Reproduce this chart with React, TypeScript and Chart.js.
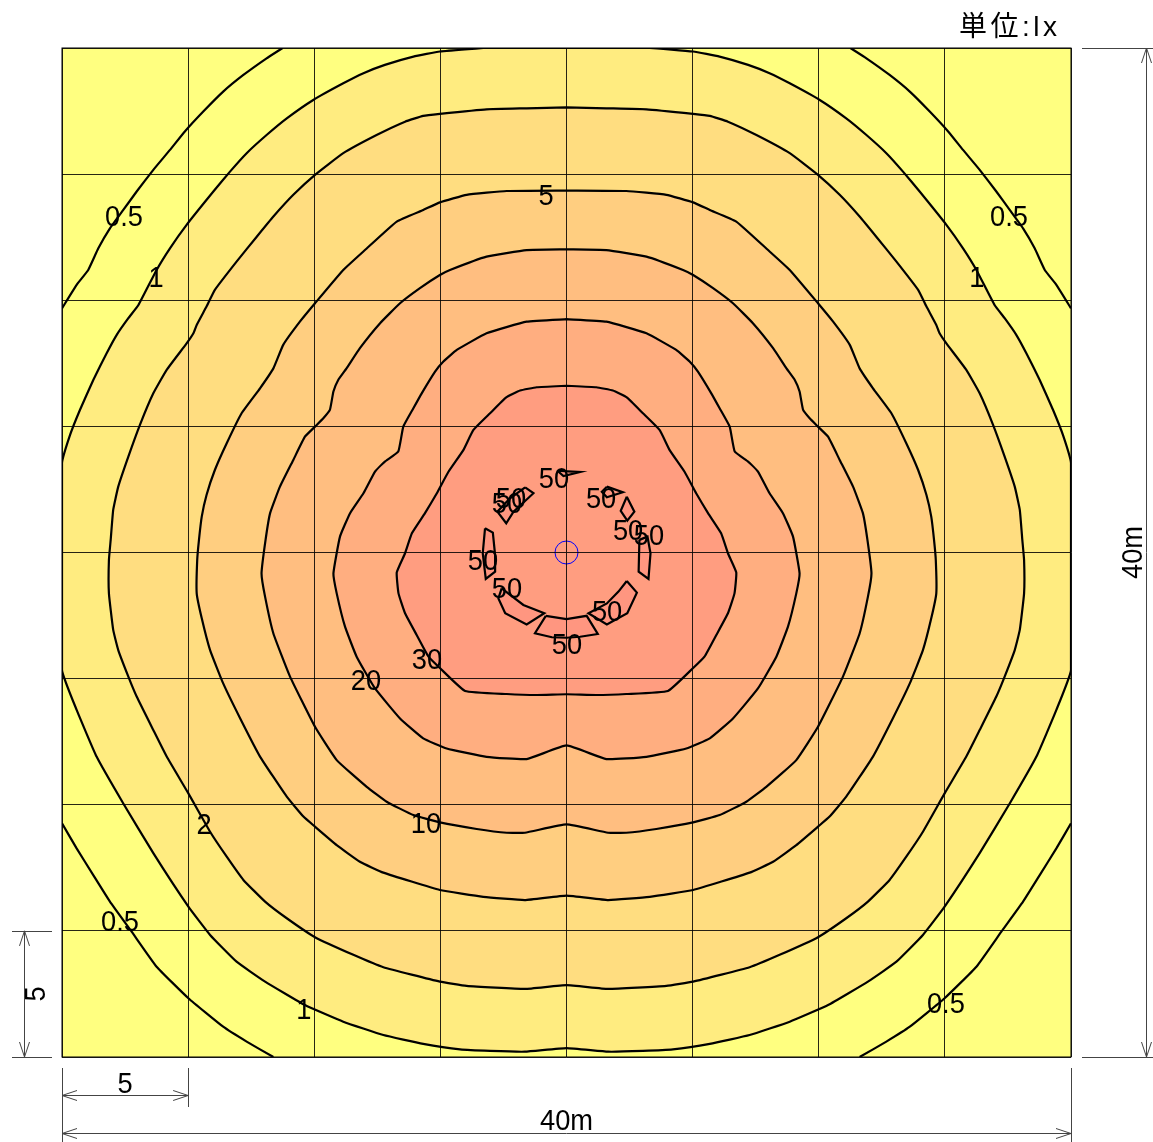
import React, { useEffect, useRef } from "react";
import { Chart, registerables } from "chart.js";

Chart.register(...registerables);

type P = [number, number];

// Iso-lux lines, metres from the luminaire. The plan is symmetric about x = 0,
// so each line lists its left half, from the top to the bottom of the plan.
const line05TopLeft: P[] = [[-11.25,20],[-11.89,19.59],[-12.81,18.93],[-13.61,18.27],[-14.4,17.48],[-15.13,16.69],[-15.72,15.96],[-16.38,15.17],[-17.04,14.31],[-17.57,13.58],[-18.1,12.85],[-18.56,12.06],[-18.96,11.2],[-19.42,10.61],[-20,9.68]];
const line05BottomLeft: P[] = [[-20,-10.74],[-19.42,-11.73],[-18.76,-12.79],[-18.1,-13.84],[-17.24,-15.03],[-16.25,-16.42],[-14.99,-17.67],[-13.61,-18.8],[-12.68,-19.39],[-11.62,-20]];
const line1Left: P[] = [[-3.3,20],[-5.02,19.86],[-6.07,19.66],[-7.2,19.33],[-8.05,19],[-8.85,18.6],[-10.04,17.94],[-11.09,17.21],[-11.89,16.55],[-12.68,15.83],[-13.34,15.1],[-14,14.31],[-15.06,12.99],[-15.72,12.06],[-16.25,11.2],[-16.97,9.81],[-17.37,9.29],[-17.83,8.63],[-18.23,7.9],[-18.76,6.84],[-19.29,5.65],[-19.68,4.66],[-20,3.54],[-20,-4.66],[-19.42,-6.24],[-18.63,-8.09],[-17.57,-9.95],[-16.38,-11.92],[-14.99,-14.04],[-14.13,-15.16],[-13.08,-16.22],[-11.95,-17.01],[-10.37,-17.94],[-8.85,-18.6],[-7.26,-19.13],[-5.68,-19.48],[-4.22,-19.7],[-3.03,-19.76],[-1.65,-19.79],[0,-19.65]];
const line2Left: P[] = [[0,17.65],[-1.58,17.61],[-3.17,17.57],[-5.02,17.39],[-5.68,17.31],[-6.4,17.08],[-7.53,16.55],[-8.85,15.83],[-9.97,14.97],[-10.83,14.18],[-11.62,13.32],[-12.28,12.52],[-13.08,11.53],[-13.94,10.41],[-14.27,9.75],[-14.66,9.02],[-14.79,8.69],[-15.06,8.29],[-15.85,7.24],[-16.38,6.31],[-16.91,5.06],[-17.37,3.8],[-17.77,2.61],[-17.97,1.69],[-18.07,0.5],[-18.14,-0.3],[-18.14,-1.62],[-17.97,-3.07],[-17.77,-3.87],[-17.37,-4.92],[-17.04,-5.71],[-16.38,-7.04],[-15.85,-8.09],[-14.99,-9.55],[-14.13,-11.07],[-13.47,-12.06],[-12.81,-12.98],[-11.95,-13.84],[-11.09,-14.5],[-9.97,-15.25],[-8.45,-15.95],[-7.26,-16.44],[-5.02,-17.01],[-3.96,-17.18],[-1.65,-17.3],[0,-17.15]];
const line5Left: P[] = [[0,14.35],[-2.37,14.33],[-3.96,14.18],[-5.02,13.88],[-5.68,13.58],[-6.73,13.12],[-7.99,11.99],[-8.85,11.2],[-9.97,9.88],[-10.57,9.15],[-11.23,8.23],[-11.62,7.3],[-12.15,6.51],[-12.88,5.52],[-13.47,4.33],[-13.94,3.27],[-14.27,2.28],[-14.46,1.42],[-14.57,0.5],[-14.64,-0.3],[-14.66,-1.62],[-14.46,-2.61],[-14.13,-3.87],[-13.61,-5.19],[-12.94,-6.57],[-12.15,-8.09],[-11.09,-9.68],[-10.43,-10.47],[-9.97,-10.87],[-9.11,-11.6],[-8.19,-12.26],[-7.26,-12.69],[-5.02,-13.38],[-3.3,-13.65],[-1.65,-13.78],[0,-13.6]];
const line10Left: P[] = [[0,12.02],[-1.58,11.99],[-3.17,11.73],[-4.62,11.2],[-5.02,11],[-5.81,10.48],[-6.6,9.88],[-7.39,9.09],[-8.19,8.1],[-8.72,7.3],[-9.05,6.84],[-9.24,6.38],[-9.38,5.65],[-9.64,5.32],[-9.97,4.99],[-10.37,4.59],[-10.83,3.67],[-11.36,2.61],[-11.75,1.56],[-11.93,0.5],[-12.09,-0.83],[-11.95,-1.75],[-11.62,-3.21],[-10.96,-4.92],[-9.97,-6.91],[-9.11,-8.23],[-7.92,-9.29],[-7.13,-9.88],[-6.07,-10.41],[-5.02,-10.7],[-3.56,-10.96],[-2.37,-11.11],[-1.65,-11.11],[0,-10.78]];
const line20Left: P[] = [[0,9.25],[-1.58,9.15],[-3.17,8.69],[-4.35,8.03],[-4.88,7.57],[-5.21,7.17],[-5.74,6.31],[-6.07,5.72],[-6.47,4.99],[-6.67,4],[-7.2,3.6],[-7.59,3.21],[-8.05,2.35],[-8.58,1.56],[-8.98,0.63],[-9.24,-0.83],[-9.11,-1.62],[-8.78,-2.94],[-8.32,-4.13],[-7.59,-5.39],[-6.6,-6.58],[-5.68,-7.37],[-4.75,-7.77],[-3.17,-8.1],[-1.58,-8.19],[0,-7.65]];
const line30Left: P[] = [[0,6.61],[-1.18,6.55],[-1.84,6.42],[-2.39,6.15],[-3.03,5.52],[-3.69,4.86],[-4.09,4.06],[-4.68,3.2],[-5.14,2.35],[-5.61,1.56],[-6.13,0.76],[-6.4,-0.03],[-6.73,-0.79],[-6.66,-1.62],[-6.4,-2.41],[-5.94,-3.27],[-5.47,-4.13],[-5.01,-4.59],[-4.02,-5.49],[-2.37,-5.61],[-1.18,-5.65],[0,-5.62]];

// The patches above 50 lx, which do not mirror.
const patches50: P[][] = [
  [[-0.82,-2.51],[0,-2.64],[0.8,-2.51],[1.24,-3.23],[0.54,-3.34],[0,-3.38],[-0.58,-3.36],[-1.25,-3.2]],
  [[-2.57,-1.42],[-1.71,-2.08],[-0.88,-2.41],[-1.58,-2.85],[-2.43,-2.41],[-2.7,-1.82]],
  [[2.39,-1.13],[2.79,-1.59],[2.41,-2.41],[1.6,-2.85],[0.87,-2.41],[1.6,-2.02],[2.06,-1.55]],
  [[-3.23,0.96],[-2.92,0.79],[-2.83,-0.1],[-2.83,-0.76],[-3.2,-1.05],[-3.32,-0.03]],
  [[2.89,0.5],[2.86,-0.76],[3.25,-1.05],[3.33,-0.03],[3.21,0.63]],
  [[2.39,2.21],[2.69,1.62],[2.41,1.26],[2.15,1.65]],
  [[-0.36,3.24],[0.54,3.19],[-0.12,3.03]],
  [[1.6,2.61],[2.23,2.39],[1.6,2.19],[1.4,2.41]],
  [[-1.64,2.58],[-1.31,2.35],[-2.1,1.62],[-2.39,1.16],[-2.74,1.62],[-2.24,2.15]],
];

const lineLevels = ["1", "2", "5", "10", "20", "30"];
const bandColors = ["#FFEC80", "#FFDD80", "#FFCE80", "#FFBE80", "#FFAE80", "#FF9D80"];
const patchColor = "#FF9680";
const plainColor = "#FFFF80";

const labelText = ["5","0.5","0.5","0.5","0.5","1","1","1","2","10","20","30","50","50","50","50","50","50","50","50","50","50"];
const labelX = [-0.81,-17.54,17.54,-17.7,15.04,-16.27,16.27,-10.41,-14.37,-5.57,-7.95,-5.53,-0.5,1.37,2.44,3.27,-2.2,-2.36,-3.31,-2.36,1.61,0.02];
const labelY = [14.17,13.34,13.34,-14.61,-17.86,10.92,10.92,-18.1,-10.76,-10.72,-5.05,-4.22,2.95,2.16,0.89,0.69,2.16,1.96,-0.3,-1.41,-2.32,-3.63];

const unitText = "単位:lx";
const spanWhole = "40m";
const spanGrid = "5";
const FONT = '"Liberation Sans", "Noto Sans CJK JP", sans-serif';

const toXY = (pts: P[]) => pts.map(([x, y]) => ({ x, y }));
const mirrored = (pts: P[]): P[] => pts.map(([x, y]) => [-x, y] as P).reverse();
const closedFromLeft = (left: P[]): P[] => {
  const right = mirrored(left).filter(([x]) => x !== 0);
  return [...left, ...right, left[0]];
};

const baseLine = { showLine: true, pointRadius: 0, tension: 0, borderColor: "#000", borderWidth: 2.2 };
const CONTOUR_TENSION = 0.12;

function arrow(ctx: CanvasRenderingContext2D, x: number, y: number, dx: number, dy: number) {
  const len = 15, wing = 5;
  ctx.beginPath();
  ctx.moveTo(x + dx * len + dy * wing, y + dy * len + dx * wing);
  ctx.lineTo(x, y);
  ctx.lineTo(x + dx * len - dy * wing, y + dy * len - dx * wing);
  ctx.stroke();
}
function seg(ctx: CanvasRenderingContext2D, x1: number, y1: number, x2: number, y2: number) {
  ctx.beginPath();
  ctx.moveTo(x1, y1);
  ctx.lineTo(x2, y2);
  ctx.stroke();
}
// The reference's digits are a little taller and narrower than Liberation Sans.
function narrowText(ctx: CanvasRenderingContext2D, t: string, x: number, y: number, rotate = 0) {
  ctx.save();
  ctx.translate(x, y);
  if (rotate) ctx.rotate(rotate);
  ctx.scale(0.94, 1);
  ctx.fillText(t, 0, 0);
  ctx.restore();
}

const annotations = {
  id: "annotations",
  afterDraw(chart: any) {
    const { ctx, scales } = chart;
    const { x: sx, y: sy } = scales;
    const L = sx.getPixelForValue(-20), R = sx.getPixelForValue(20);
    const G = sx.getPixelForValue(-15);
    const T = sy.getPixelForValue(20), B = sy.getPixelForValue(-20);
    const H = sy.getPixelForValue(-15);
    ctx.save();

    // plan frame
    ctx.strokeStyle = "#000";
    ctx.lineWidth = 1;
    ctx.strokeRect(L, T, R - L, B - T);

    ctx.fillStyle = "#000";
    ctx.textAlign = "center";
    ctx.textBaseline = "middle";
    ctx.font = `29px ${FONT}`;
    labelText.forEach((t, i) => {
      narrowText(ctx, t, sx.getPixelForValue(labelX[i]), sy.getPixelForValue(labelY[i]) + 2);
    });

    // dimension lines
    ctx.strokeStyle = "#444";
    ctx.lineWidth = 1;
    const a = (v: number) => Math.round(v) + 0.5;
    // left, one grid span
    seg(ctx, 12, a(H), L - 10, a(H));
    seg(ctx, 12, a(B), L - 10, a(B));
    seg(ctx, 24.5, H, 24.5, B);
    arrow(ctx, 24.5, H, 0, 1);
    arrow(ctx, 24.5, B, 0, -1);
    // bottom, one grid span
    seg(ctx, a(L), B + 11, a(L), B + 50);
    seg(ctx, a(G), B + 11, a(G), B + 50);
    seg(ctx, L, B + 38.5, G, B + 38.5);
    arrow(ctx, L, B + 38.5, 1, 0);
    arrow(ctx, G, B + 38.5, -1, 0);
    // bottom, whole plan
    seg(ctx, a(L), B + 50, a(L), B + 85);
    seg(ctx, a(R), B + 11, a(R), B + 85);
    seg(ctx, L, B + 76.5, R, B + 76.5);
    arrow(ctx, L, B + 76.5, 1, 0);
    arrow(ctx, R, B + 76.5, -1, 0);
    // right, whole plan
    seg(ctx, R + 11, a(T), R + 82, a(T));
    seg(ctx, R + 11, a(B), R + 82, a(B));
    seg(ctx, R + 75.5, T, R + 75.5, B);
    arrow(ctx, R + 75.5, T, 0, 1);
    arrow(ctx, R + 75.5, B, 0, -1);

    ctx.fillStyle = "#000";
    narrowText(ctx, spanGrid, (L + G) / 2, B + 28);
    narrowText(ctx, spanWhole, (L + R) / 2, B + 65);
    narrowText(ctx, spanGrid, L - 25, (H + B) / 2, -Math.PI / 2);
    narrowText(ctx, spanWhole, R + 63, (T + B) / 2, -Math.PI / 2);

    ctx.textAlign = "left";
    ctx.font = `28px ${FONT}`;
    (ctx as any).letterSpacing = "3.5px";
    ctx.fillText(unitText, 959, 28);
    ctx.restore();
  },
};

export default function App() {
  const ref = useRef<HTMLCanvasElement>(null);
  useEffect(() => {
    if (!ref.current) return;
    const contourLists = [line1Left, line2Left, line5Left, line10Left, line20Left, line30Left];
    const datasets: any[] = [];
    contourLists.forEach((left, i) => {
      datasets.push({
        ...baseLine,
        label: `${lineLevels[i]} lx`,
        data: toXY(closedFromLeft(left)),
        fill: "shape",
        tension: CONTOUR_TENSION,
        backgroundColor: bandColors[i],
        order: 100 - i,
      });
    });
    patches50.forEach((p, i) => {
      datasets.push({
        ...baseLine,
        label: `50 lx ${i + 1}`,
        data: toXY([...p, p[0]]),
        fill: "shape",
        backgroundColor: patchColor,
        order: 50 - i,
      });
    });
    [line05TopLeft, mirrored(line05TopLeft), line05BottomLeft, mirrored(line05BottomLeft)].forEach((p, i) => {
      datasets.push({ ...baseLine, tension: CONTOUR_TENSION, label: `0.5 lx ${i + 1}`, data: toXY(p), fill: false, order: 20 });
    });
    datasets.push({
      label: "luminaire",
      data: [{ x: 0, y: 0 }],
      showLine: false,
      pointStyle: "circle",
      pointRadius: 11.5,
      pointBackgroundColor: "rgba(0,0,0,0)",
      pointBorderColor: "#0000FF",
      pointBorderWidth: 1,
      order: 1,
    });
    const axis = (): any => ({
      type: "linear",
      min: -20,
      max: 20,
      ticks: { display: false, stepSize: 5 },
      grid: { color: "rgba(0,0,0,0.85)", lineWidth: 1, drawTicks: false, z: 1 },
      border: { display: false },
    });
    const chart = new Chart(ref.current, {
      type: "scatter",
      data: { datasets },
      options: {
        responsive: false,
        animation: false,
        devicePixelRatio: 1,
        layout: { padding: { left: 62, top: 48, right: 82, bottom: 85 } },
        plugins: { legend: { display: false }, tooltip: { enabled: false } },
        scales: { x: axis(), y: axis() },
      },
      plugins: [
        {
          id: "plainGround",
          beforeDraw(c: any) {
            const { left, top, width, height } = c.chartArea;
            c.ctx.save();
            c.ctx.fillStyle = "#fff";
            c.ctx.fillRect(0, 0, c.width, c.height);
            c.ctx.fillStyle = plainColor;
            c.ctx.fillRect(left, top, width, height);
            c.ctx.restore();
          },
        },
        annotations,
      ],
    } as any);
    return () => chart.destroy();
  }, []);
  return (
    <canvas
      ref={ref}
      width={1153}
      height={1142}
      style={{ position: "absolute", left: 0, top: 0, display: "block" }}
    />
  );
}
